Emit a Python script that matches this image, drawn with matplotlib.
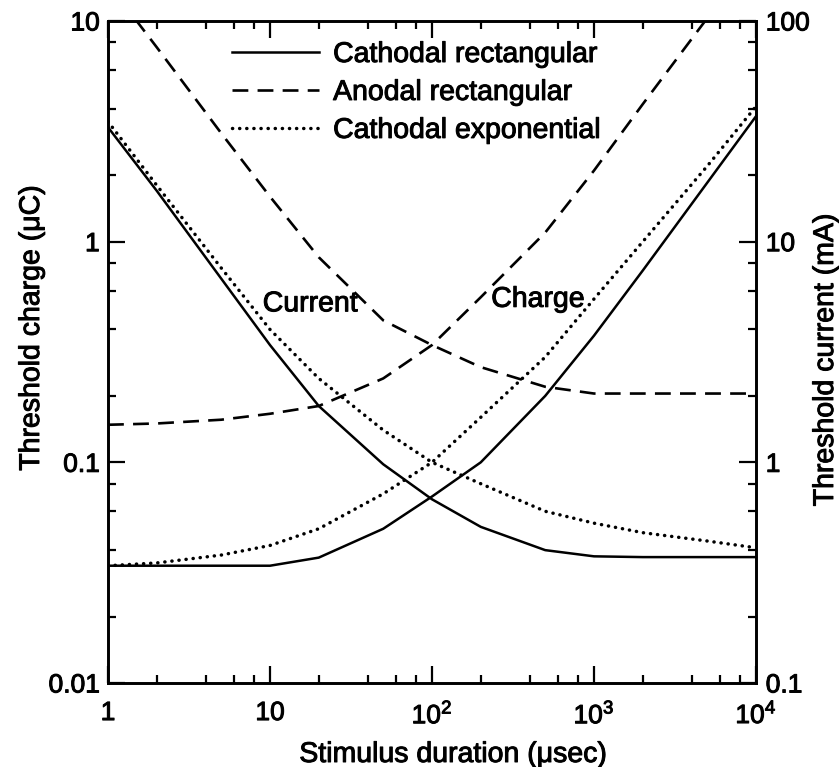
import matplotlib
matplotlib.use("Agg")
import matplotlib.pyplot as plt
import matplotlib.patheffects as pe
from matplotlib.ticker import LogLocator, FixedLocator, FixedFormatter, NullFormatter

plt.rcParams["font.family"] = ["Liberation Sans", "DejaVu Sans"]
plt.rcParams["mathtext.fontset"] = "custom"
plt.rcParams["mathtext.rm"] = "Liberation Sans"
plt.rcParams["mathtext.it"] = "Liberation Sans:italic"

# ── data ────────────────────────────────────────────────────────────────────
# stimulus duration (usec)
duration = [1, 2, 5, 10, 20, 50, 100, 200, 500, 1000, 2000, 5000, 10000]

# threshold current (mA), right axis
cath_rect_current = [33, 17, 6.8, 3.4, 1.8, 0.98, 0.68, 0.51, 0.40, 0.375, 0.372, 0.372, 0.372]
anod_rect_current = [148, 76, 31, 16, 8.5, 4.4, 3.4, 2.7, 2.2, 2.05, 2.05, 2.05, 2.05]
cath_exp_current = [35, 18, 7.6, 4.0, 2.4, 1.4, 1.0, 0.80, 0.60, 0.53, 0.48, 0.44, 0.41]

# threshold charge (uC), left axis
cath_rect_charge = [0.034, 0.034, 0.034, 0.034, 0.037, 0.05, 0.07, 0.10, 0.20, 0.375, 0.74, 1.85, 3.7]
anod_rect_charge = [0.148, 0.15, 0.156, 0.166, 0.18, 0.24, 0.34, 0.56, 1.1, 2.1, 4.2, 10.3, 20.5]
cath_exp_charge = [0.034, 0.035, 0.038, 0.042, 0.05, 0.072, 0.10, 0.16, 0.30, 0.55, 1.0, 2.2, 4.1]

series_labels = ["Cathodal rectangular", "Anodal rectangular", "Cathodal exponential"]
x_tick_vals = [1, 10, 100, 1000, 10000]
x_tick_labels = ["1", "10", r"10$^2$", r"10$^3$", r"10$^4$"]
left_tick_vals = [0.01, 0.1, 1, 10]
left_tick_labels = ["0.01", "0.1", "1", "10"]
right_tick_vals = [0.1, 1, 10, 100]
right_tick_labels = ["0.1", "1", "10", "100"]

# ── styles ──────────────────────────────────────────────────────────────────
SOLID = dict(color="black", lw=1.8, linestyle="-")
DASHED = dict(color="black", lw=1.9, linestyle=(0, (6, 3.5)))
DOTTED = dict(color="black", lw=2.5, linestyle=(0, (0.05, 2.0)), dash_capstyle="round")
INK = [pe.withStroke(linewidth=0.7, foreground="black")]  # scanned-print heaviness

fig = plt.figure(figsize=(8.39, 7.67), dpi=100)
ax = fig.add_axes([108 / 839, 1 - 683 / 767, (756 - 108) / 839, (683 - 21) / 767])
ax2 = ax.twinx()

for a in (ax, ax2):
    a.set_xscale("log")
    a.set_yscale("log")
    a.set_xlim(1, 10000)

ax.set_ylim(0.01, 10)
ax2.set_ylim(0.1, 100)

# charge curves (left axis)
l1, = ax.plot(duration, cath_rect_charge, **SOLID)
l2, = ax.plot(duration, anod_rect_charge, **DASHED)
l3, = ax.plot(duration, cath_exp_charge, **DOTTED)

# current curves (right axis)
ax2.plot(duration, cath_rect_current, **SOLID)
ax2.plot(duration, anod_rect_current, **DASHED)
ax2.plot(duration, cath_exp_current, **DOTTED)

# ── ticks ───────────────────────────────────────────────────────────────────
ax.xaxis.set_major_locator(FixedLocator(x_tick_vals))
ax.xaxis.set_major_formatter(FixedFormatter(x_tick_labels))
ax.xaxis.set_minor_locator(LogLocator(base=10, subs=(2, 4, 6, 8), numticks=20))
ax.xaxis.set_minor_formatter(NullFormatter())

ax.yaxis.set_major_locator(FixedLocator(left_tick_vals))
ax.yaxis.set_major_formatter(FixedFormatter(left_tick_labels))
ax.yaxis.set_minor_locator(LogLocator(base=10, subs=(2, 4, 6, 8), numticks=20))
ax.yaxis.set_minor_formatter(NullFormatter())

ax2.yaxis.set_major_locator(FixedLocator(right_tick_vals))
ax2.yaxis.set_major_formatter(FixedFormatter(right_tick_labels))
ax2.yaxis.set_minor_locator(LogLocator(base=10, subs=(2, 4, 6, 8), numticks=20))
ax2.yaxis.set_minor_formatter(NullFormatter())

ax.tick_params(axis="x", which="both", direction="in", top=True, bottom=True,
               labelsize=19, pad=13, width=1.6)
ax.tick_params(axis="y", which="both", direction="in", left=True, right=False,
               labelsize=19, pad=6, width=1.6)
ax2.tick_params(axis="y", which="both", direction="in", right=True,
                labelsize=19, pad=7, width=1.6)
for a in (ax, ax2):
    a.tick_params(which="major", length=12)
    a.tick_params(which="minor", length=6)
    for s in a.spines.values():
        s.set_linewidth(1.9)
    for t in a.get_xticklabels() + a.get_yticklabels():
        t.set_path_effects(INK)

# ── labels ──────────────────────────────────────────────────────────────────
fig.text(453 / 839, 1 - 755 / 767, "Stimulus duration (μsec)", ha="center",
         va="center", fontsize=20.5, path_effects=INK)
fig.text(32 / 839, 1 - 328 / 767, "Threshold charge (μC)", rotation=90,
         ha="center", va="center", fontsize=20.5, path_effects=INK)
fig.text(826 / 839, 1 - 360 / 767, "Threshold current (mA)", rotation=90,
         ha="center", va="center", fontsize=20.5, path_effects=INK)

ax.text(17.7, 0.52, "Current", ha="center", va="center", fontsize=20.5, path_effects=INK)
ax.text(451, 0.545, "Charge", ha="center", va="center", fontsize=20.5, path_effects=INK)

leg = ax.legend([l1, l2, l3], series_labels, loc="upper left",
                bbox_to_anchor=((232 - 108) / 648, 1 - 21 / 662), frameon=False,
                fontsize=20.5, handlelength=3.05, handletextpad=0.5, labelspacing=0.42,
                borderpad=0, borderaxespad=0)
for t in leg.get_texts():
    t.set_path_effects(INK)

fig.savefig("out.png", dpi=100, facecolor="white")
